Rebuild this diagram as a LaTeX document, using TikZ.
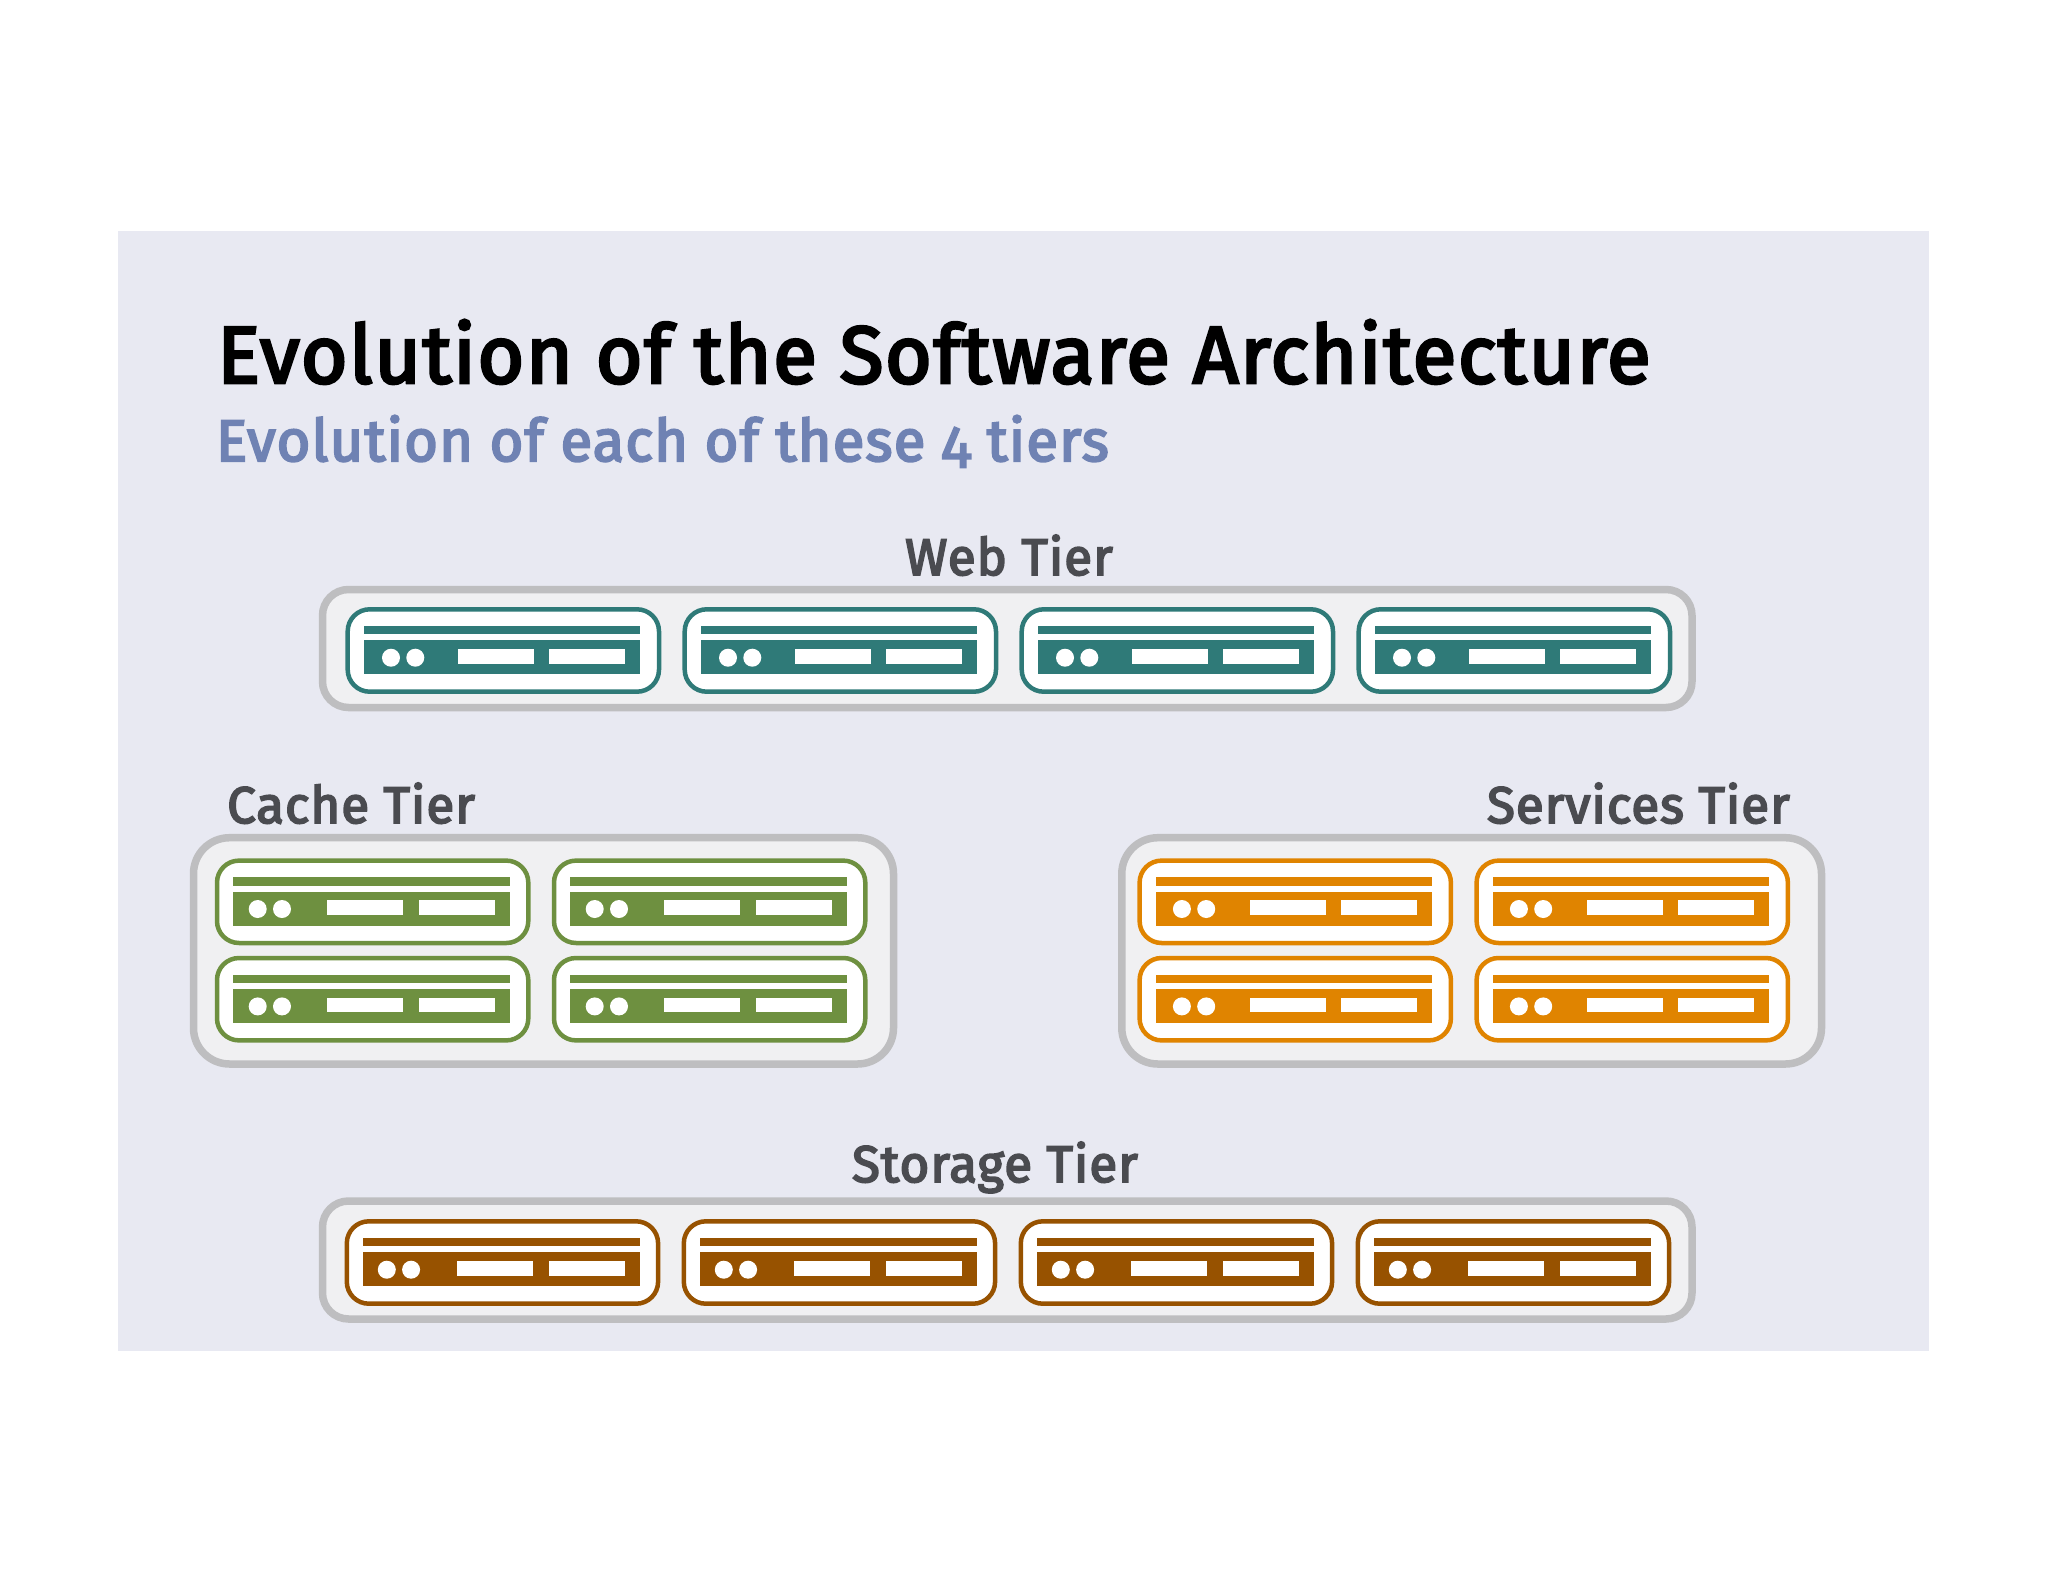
\documentclass[tikz,border=0pt]{standalone}
\usepackage{fontspec}
\setmainfont{Fira Sans}[Numbers=OldStyle,FakeStretch=0.99,FakeBold=3.5,LetterSpace=2]
\usepackage{xcolor}
\definecolor{bgPanel}{HTML}{E8E9F2}
\definecolor{tierFill}{HTML}{F0F0F2}
\definecolor{tierLine}{HTML}{BEBEC0}
\definecolor{subBlue}{HTML}{6F82B3}
\definecolor{labelGrey}{HTML}{4A4B50}
\definecolor{webCol}{HTML}{2F7A78}
\definecolor{cacheCol}{HTML}{6E9040}
\definecolor{servCol}{HTML}{E08400}
\definecolor{storCol}{HTML}{975200}
\tikzset{
  tierBox/.style={draw=tierLine,fill=tierFill,line width=7.5pt,rounded corners=#1},
  tierBox/.default=26pt,
  tierLabel/.style={font=\fontsize{51.5}{52}\selectfont,text=labelGrey,inner sep=0pt},
}
% #1 x, #2 y, #3 colour, #4 x of the first dot
\newcommand{\serverbox}[4]{
  \begin{scope}[shift={(#1,#2)}]
    \draw[draw=#3,fill=white,line width=4.5pt,rounded corners=22pt] (0,0) rectangle (311.3,82.4);
    \fill[#3] (16.3,16.7) rectangle (292.7,25);
    \fill[#3] (16.3,31) rectangle (292.7,65);
    \fill[white] (#4,48.4) circle (9pt);
    \fill[white] (#4+24.3,48.4) circle (9pt);
    \fill[white] (110,39.7) rectangle (186,54.4);
    \fill[white] (201.7,39.7) rectangle (277.7,54.4);
  \end{scope}
}
\begin{document}
\begin{tikzpicture}[x=1pt,y=-1pt]
\useasboundingbox (0,0) rectangle (2048,1582);
\fill[bgPanel] (118,231) rectangle (1929,1351);
%the titles
\node [anchor=base west,inner sep=0pt,font=\fontsize{81}{81}\selectfont] (mainTitle) at (217,383) {Evolution of the Software Architecture};
\node [anchor=base west,inner sep=0pt,text=subBlue,font=\fontsize{58.5}{58.5}\selectfont] (subTitle) at (216,461) {Evolution of each of these 4 tiers};
%the tier labels
\node [tierLabel,anchor=base] (webLabel) at (1009,575) {Web Tier};
\node [tierLabel,anchor=base west] (cacheLabel) at (227,823) {Cache Tier};
\node [tierLabel,anchor=base east] (servLabel) at (1790,823) {Services Tier};
\node [tierLabel,anchor=base] (storLabel) at (995,1182) {Storage Tier};
%tier boxes
\draw [tierBox] (322.5,589.5) rectangle (1692,707.5);
\draw [tierBox=36pt] (193.5,837.7) rectangle (893.5,1064);
\draw [tierBox=36pt] (1121.8,837.7) rectangle (1821.5,1064);
\draw [tierBox] (322.5,1201) rectangle (1692,1319);
%servers
\foreach \xpos in {347.7,684.7,1021.7,1358.7} {\serverbox{\xpos}{609.3}{webCol}{43.3}}
\foreach \xpos in {217,554} {
  \serverbox{\xpos}{860.6}{cacheCol}{40.7}
  \serverbox{\xpos}{958}{cacheCol}{40.7}
}
\foreach \xpos in {1139.6,1476.6} {
  \serverbox{\xpos}{860.6}{servCol}{42.3}
  \serverbox{\xpos}{958}{servCol}{42.3}
}
\foreach \xpos in {346.8,683.8,1020.8,1357.8} {\serverbox{\xpos}{1221.3}{storCol}{40}}
\end{tikzpicture}
\end{document}
